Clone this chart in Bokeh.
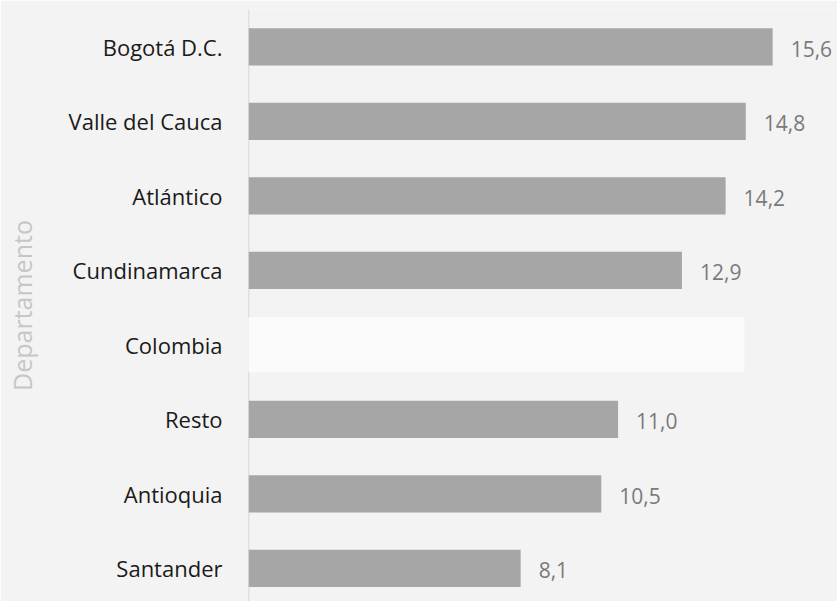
from bokeh.plotting import figure
from bokeh.models import ColumnDataSource, Range1d, FixedTicker, Span
from bokeh.core.properties import value
from bokeh.embed import file_html
from bokeh.resources import INLINE

# Data (top to bottom)
departamentos = ["Bogotá D.C.", "Valle del Cauca", "Atlántico", "Cundinamarca",
                 "Colombia", "Resto", "Antioquia", "Santander"]
valores = [15.6, 14.8, 14.2, 12.9, None, 11.0, 10.5, 8.1]
etiquetas = ["15,6", "14,8", "14,2", "12,9", "", "11,0", "10,5", "8,1"]
# Colombia row is shown as a blank highlighted band
colombia_banda = 14.73

n = len(departamentos)
ypos = [n - 1 - i for i in range(n)]

bar_rows = [i for i in range(n) if valores[i] is not None]
src = ColumnDataSource(dict(
    y=[ypos[i] for i in bar_rows],
    v=[valores[i] for i in bar_rows],
    lab=[etiquetas[i] for i in bar_rows],
))
ci = departamentos.index("Colombia")
band_src = ColumnDataSource(dict(y=[ypos[ci]], v=[colombia_banda]))

BG = "#f3f3f3"
FONT = "Open Sans"

p = figure(width=837, height=601, output_backend="svg", toolbar_location=None,
           x_range=Range1d(0, 17.53), y_range=Range1d(-0.446, 7.5),
           min_border_left=248, min_border_top=9, min_border_bottom=0,
           min_border_right=0)
p.background_fill_color = BG
p.border_fill_color = BG
p.outline_line_color = None
p.xgrid.visible = False
p.ygrid.visible = False
p.xaxis.visible = False

# vertical axis line (drawn below the Colombia band)
axis_line = Span(location=0, dimension="height", line_color="#c9c9c9",
                 line_width=1.5, level="underlay")
p.add_layout(axis_line)

p.hbar(y="y", right="v", left=0, height=0.71, source=band_src,
       fill_color="#fbfbfb", line_color="#fbfbfb", line_width=2)
p.hbar(y="y", right="v", left=0, height=0.5, source=src,
       fill_color="#a6a6a6", line_color=None)
p.text(x="v", y="y", text="lab", source=src, x_offset=18, y_offset=2,
       text_baseline="middle", text_align="left",
       text_color="#7a7a7a", text_font=value(FONT), text_font_size="21px")

yax = p.yaxis[0]
yax.ticker = FixedTicker(ticks=ypos)
yax.major_label_overrides = {ypos[i]: departamentos[i] for i in range(n)}
yax.axis_line_color = None
yax.major_tick_line_color = None
yax.minor_tick_line_color = None
yax.major_tick_out = 0
yax.major_tick_in = 0
yax.major_label_standoff = 26
yax.major_label_text_font = FONT
yax.major_label_text_font_size = "22px"
yax.major_label_text_color = "#1a1a1a"
yax.axis_label = "Departamento"
yax.axis_label_text_font = FONT
yax.axis_label_text_font_size = "25px"
yax.axis_label_text_font_style = "normal"
yax.axis_label_text_color = "#c6c6c6"
yax.axis_label_standoff = 27

open("out.html", "w").write(file_html(p, INLINE))
